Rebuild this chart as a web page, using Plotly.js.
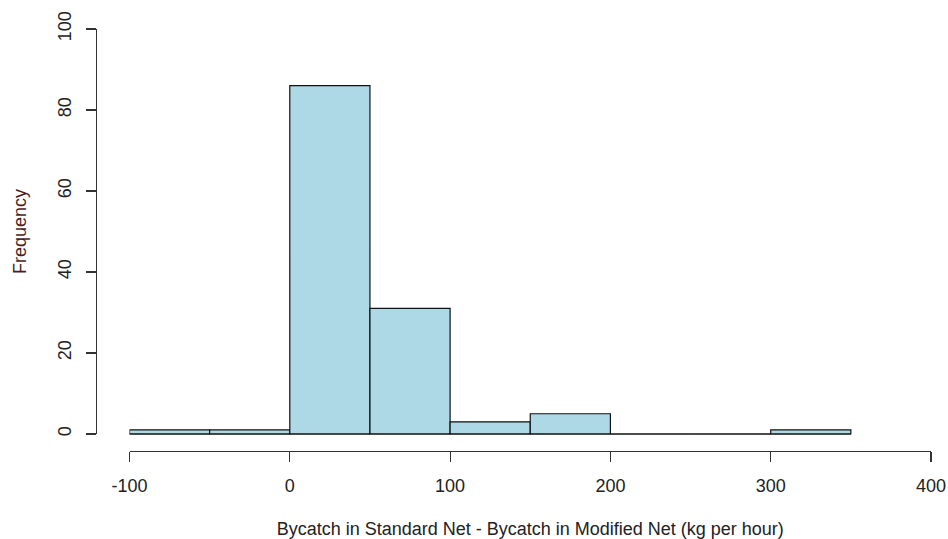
<!DOCTYPE html>
<html>
<head>
<meta charset="utf-8">
<script src="https://cdn.plot.ly/plotly-3.0.1.min.js"></script>
<style>html,body{margin:0;padding:0;background:#fff;}#chart{width:948px;height:539px;}</style>
</head>
<body>
<div id="chart"></div>
<script>
// Histogram bins (left edges, right edges) and counts
var binStarts = [-100, -50, 0, 50, 100, 150, 200, 250, 300];
var binEnds   = [-50, 0, 50, 100, 150, 200, 250, 300, 350];
var counts    = [1, 1, 86, 31, 3, 5, 0, 0, 1];
var xTicks = [-100, 0, 100, 200, 300, 400];
var xTickLabels = ["-100", "0", "100", "200", "300", "400"];
var yTicks = [0, 20, 40, 60, 80, 100];
var yTickLabels = ["0", "20", "40", "60", "80", "100"];
var xTitle = "Bycatch in Standard Net - Bycatch in Modified Net (kg per hour)";
var yTitle = "Frequency";

var centers = binStarts.map(function(s, i){ return (s + binEnds[i]) / 2; });
var widths = binStarts.map(function(s, i){ return binEnds[i] - s; });

var W = 948, H = 539;
var fontFam = "Liberation Sans, Arial, sans-serif";
var tickFont = {family: fontFam, size: 18, color: "#222"};

var bars = {
  type: "bar",
  x: centers,
  y: counts,
  width: widths,
  marker: {color: "#ADD8E6", line: {color: "#111", width: 1.2}},
  hoverinfo: "x+y",
  xaxis: "x", yaxis: "y"
};
// zero-count bins drawn as a baseline, like R's hist
var baseline = {
  type: "scatter", mode: "lines",
  x: [binStarts[0], binEnds[binEnds.length-1]],
  y: [0, 0],
  line: {color: "#111", width: 1.2},
  hoverinfo: "skip",
  xaxis: "x", yaxis: "y"
};
var dummy = {type: "scatter", x: [], y: [], xaxis: "x", yaxis: "y2", hoverinfo: "skip"};

var py = function(px){ return (H - px) / H; };
var layout = {
  width: W, height: H,
  margin: {l: 0, r: 0, t: 0, b: 0},
  paper_bgcolor: "#fff", plot_bgcolor: "rgba(0,0,0,0)",
  showlegend: false,
  bargap: 0,
  xaxis: {
    domain: [129.5 / W, 931 / W],
    range: [-100, 400],
    anchor: "y",
    tickmode: "array", tickvals: xTicks, ticktext: xTickLabels,
    ticks: "outside", ticklen: 10, tickwidth: 1.2, tickcolor: "#333",
    ticklabelstandoff: 8,
    showline: true, linecolor: "#333", linewidth: 1.2,
    showgrid: false, zeroline: false,
    tickfont: tickFont,
    title: {text: xTitle, font: {family: fontFam, size: 18, color: "#222"}, standoff: 37}
  },
  yaxis: {
    domain: [py(451), py(29)],
    range: [-17 / 4.05, 100],
    anchor: "x",
    visible: false, showgrid: false, zeroline: false
  },
  yaxis2: {
    domain: [py(434), py(29)],
    range: [0, 100],
    anchor: "free", position: 96 / W,
    tickmode: "array", tickvals: yTicks, ticktext: yTickLabels,
    ticks: "outside", ticklen: 10, tickwidth: 1.2, tickcolor: "#333",
    ticklabelstandoff: 8,
    showline: true, linecolor: "#333", linewidth: 1.2,
    showgrid: false, zeroline: false,
    tickangle: -90,
    tickfont: tickFont,
    title: {text: yTitle, font: {family: fontFam, size: 18, color: "#4a1c1c"}, standoff: 22}
  }
};

Plotly.newPlot("chart", [bars, baseline, dummy], layout, {displayModeBar: false, staticPlot: true});
</script>
</body>
</html>
